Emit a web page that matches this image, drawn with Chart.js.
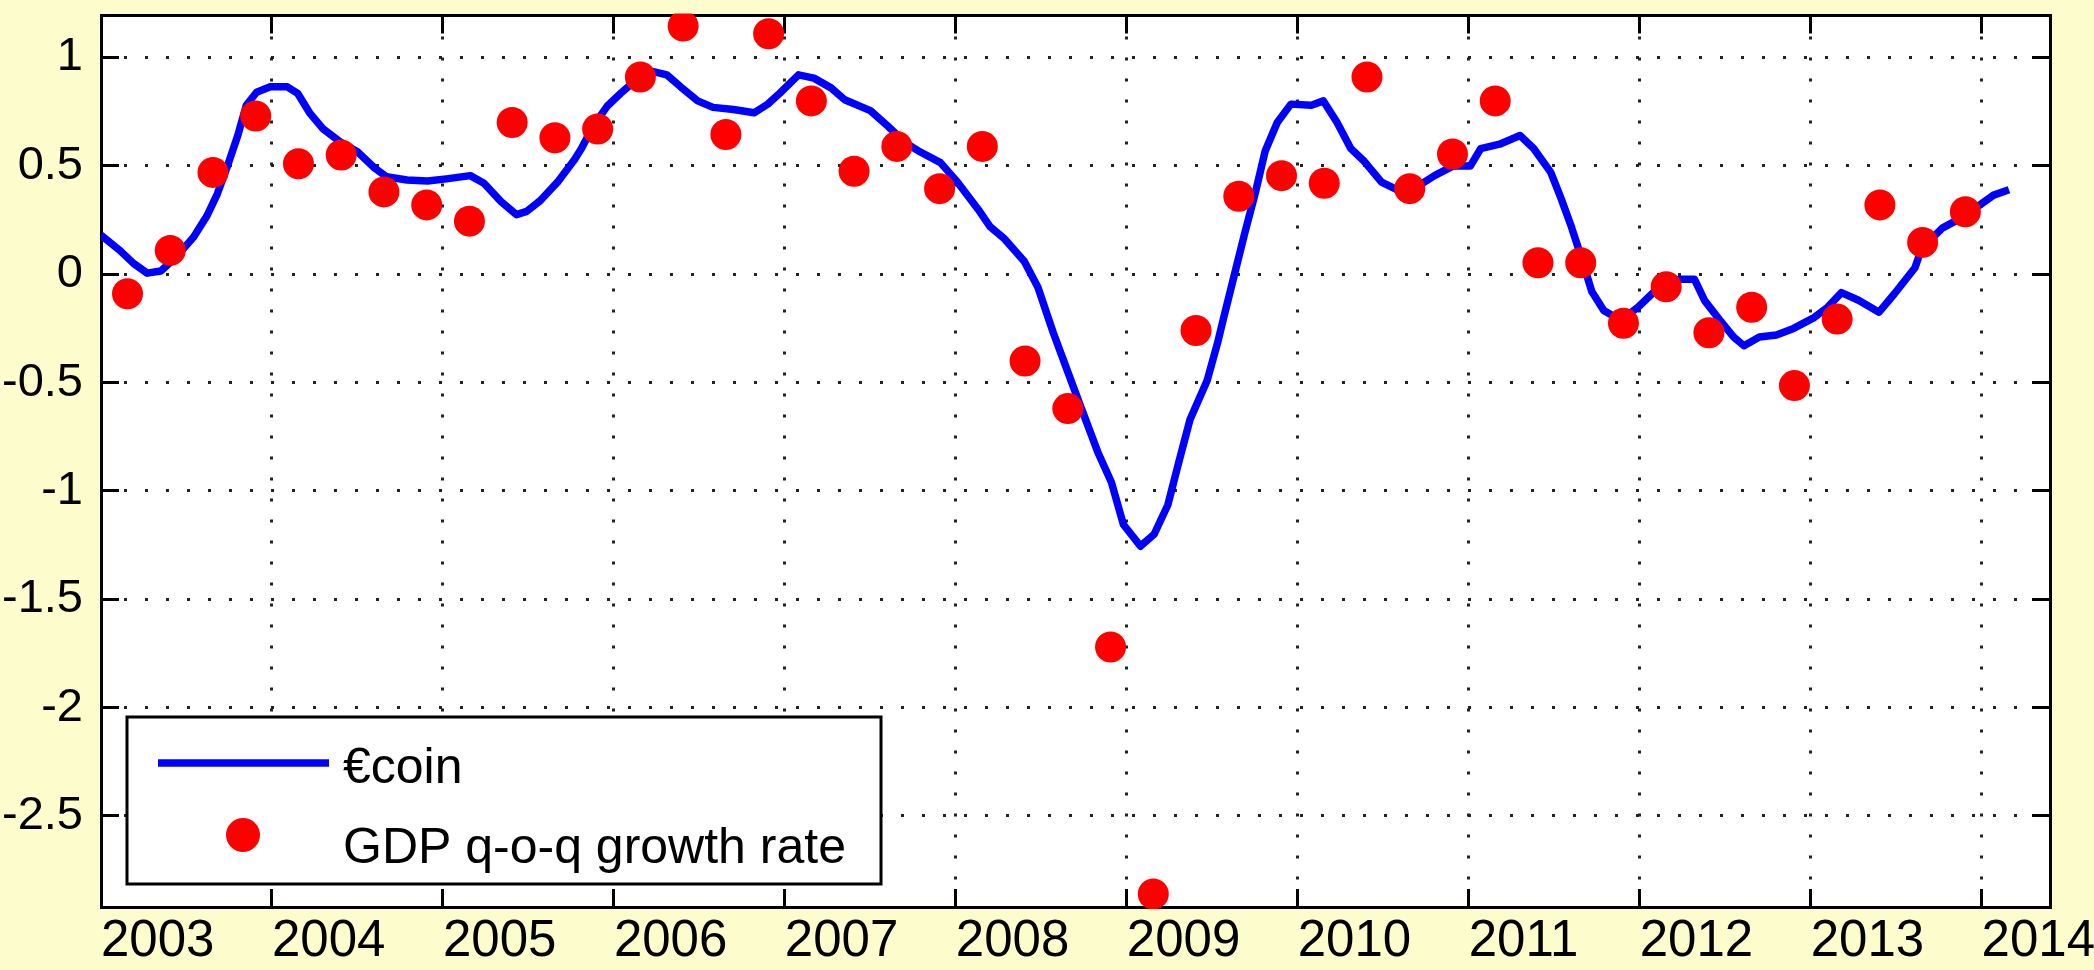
<!DOCTYPE html>
<html>
<head>
<meta charset="utf-8">
<script src="https://cdn.jsdelivr.net/npm/chart.js@4/dist/chart.umd.min.js"></script>
<style>
  html, body { margin: 0; padding: 0; background: #fdfccd; }
</style>
</head>
<body>
<canvas id="ecoin" width="2094" height="970"></canvas>
<script>
// €-coin vs euro area GDP q-o-q growth, 2003-2014

// €-coin line (fractional year, value)
const coinDates = [2003.00, 2003.11, 2003.19, 2003.27, 2003.35, 2003.44, 2003.54, 2003.62, 2003.68, 2003.74,
  2003.80, 2003.85, 2003.91, 2003.99, 2004.09, 2004.15, 2004.22, 2004.30, 2004.40, 2004.50,
  2004.60, 2004.67, 2004.79, 2004.91, 2005.02, 2005.16, 2005.24, 2005.34, 2005.43, 2005.49,
  2005.57, 2005.67, 2005.77, 2005.81, 2005.88, 2005.96, 2006.04, 2006.12, 2006.23, 2006.31,
  2006.39, 2006.49, 2006.58, 2006.70, 2006.82, 2006.90, 2006.97, 2007.08, 2007.17, 2007.27,
  2007.35, 2007.50, 2007.60, 2007.70, 2007.79, 2007.91, 2008.01, 2008.13, 2008.20, 2008.28,
  2008.40, 2008.48, 2008.57, 2008.65, 2008.73, 2008.83, 2008.91, 2008.98, 2009.08, 2009.16,
  2009.24, 2009.30, 2009.37, 2009.47, 2009.53, 2009.57, 2009.63, 2009.69, 2009.75, 2009.81,
  2009.88, 2009.96, 2010.08, 2010.15, 2010.23, 2010.31, 2010.39, 2010.49, 2010.58, 2010.68,
  2010.80, 2010.91, 2011.01, 2011.07, 2011.18, 2011.30, 2011.38, 2011.48, 2011.54, 2011.60,
  2011.66, 2011.72, 2011.79, 2011.89, 2011.99, 2012.08, 2012.16, 2012.24, 2012.32, 2012.38,
  2012.47, 2012.55, 2012.61, 2012.70, 2012.80, 2012.90, 2013.02, 2013.10, 2013.18, 2013.28,
  2013.40, 2013.49, 2013.61, 2013.65, 2013.77, 2013.88, 2013.99, 2014.07, 2014.16];
const coinValues = [0.18, 0.11, 0.05, 0.005, 0.015, 0.08, 0.17, 0.27, 0.37, 0.50,
  0.64, 0.78, 0.84, 0.865, 0.865, 0.835, 0.745, 0.67, 0.61, 0.565,
  0.49, 0.45, 0.435, 0.43, 0.44, 0.455, 0.42, 0.335, 0.275, 0.29,
  0.34, 0.425, 0.53, 0.58, 0.685, 0.775, 0.835, 0.89, 0.935, 0.92,
  0.865, 0.80, 0.77, 0.76, 0.745, 0.785, 0.835, 0.92, 0.905, 0.86,
  0.805, 0.755, 0.685, 0.61, 0.565, 0.515, 0.425, 0.30, 0.22, 0.167,
  0.06, -0.06, -0.27, -0.44, -0.61, -0.82, -0.96, -1.155, -1.255, -1.20,
  -1.065, -0.88, -0.67, -0.49, -0.32, -0.19, 0.0, 0.19, 0.37, 0.57,
  0.70, 0.785, 0.78, 0.80, 0.70, 0.58, 0.52, 0.425, 0.39, 0.395,
  0.455, 0.50, 0.50, 0.58, 0.60, 0.64, 0.58, 0.47, 0.35, 0.22,
  0.075, -0.08, -0.167, -0.213, -0.152, -0.084, -0.038, -0.023, -0.023, -0.122,
  -0.213, -0.29, -0.33, -0.29, -0.28, -0.25, -0.20, -0.152, -0.085, -0.12,
  -0.175, -0.09, 0.03, 0.12, 0.213, 0.26, 0.32, 0.365, 0.39];

// GDP quarter-on-quarter growth
const gdpQuarters = ['2003Q1', '2003Q2', '2003Q3', '2003Q4', '2004Q1', '2004Q2', '2004Q3', '2004Q4',
  '2005Q1', '2005Q2', '2005Q3', '2005Q4', '2006Q1', '2006Q2', '2006Q3', '2006Q4',
  '2007Q1', '2007Q2', '2007Q3', '2007Q4', '2008Q1', '2008Q2', '2008Q3', '2008Q4',
  '2009Q1', '2009Q2', '2009Q3', '2009Q4', '2010Q1', '2010Q2', '2010Q3', '2010Q4',
  '2011Q1', '2011Q2', '2011Q3', '2011Q4', '2012Q1', '2012Q2', '2012Q3', '2012Q4',
  '2013Q1', '2013Q2', '2013Q3', '2013Q4'];
const gdpValues = [-0.09, 0.11, 0.47, 0.73, 0.51, 0.55, 0.38, 0.32,
  0.245, 0.70, 0.63, 0.67, 0.91, 1.145, 0.645, 1.11,
  0.80, 0.475, 0.59, 0.395, 0.59, -0.40, -0.62, -1.72,
  -2.86, -0.26, 0.36, 0.455, 0.42, 0.91, 0.395, 0.555,
  0.80, 0.053, 0.053, -0.226, -0.058, -0.27, -0.152, -0.514,
  -0.207, 0.32, 0.147, 0.288];

const yearTicks = [2003, 2004, 2005, 2006, 2007, 2008, 2009, 2010, 2011, 2012, 2013, 2014];
const valueTicks = [-2.5, -2, -1.5, -1, -0.5, 0, 0.5, 1];

// quarter label -> position on the year axis (dots sit in the quarter's middle month)
const quarterPos = (q) => Number(q.slice(0, 4)) + (Number(q.slice(5)) - 1) * 0.25 + 0.155;

const FONT = '"Liberation Sans", Arial, sans-serif';
const X_MIN = 2003, X_MAX = 2014.4;
const Y_MIN = -2.92, Y_MAX = 1.194;

const dottedGrid = { color: '#222222', lineWidth: 3, tickLength: -18, tickColor: '#000', tickWidth: 3 };
const solidBorder = { color: '#000', width: 3, dash: [3, 18] };

const frame = {
    id: 'frame',
    beforeDraw(chart) {
        const { ctx, chartArea: a, width, height } = chart;
        ctx.save();
        ctx.fillStyle = '#fdfccd';
        ctx.fillRect(0, 0, width, height);
        ctx.fillStyle = '#ffffff';
        ctx.fillRect(a.left, a.top, a.right - a.left, a.bottom - a.top);
        ctx.restore();
    },
};

// legend box in the lower-left corner of the plot
const boxLegend = {
    id: 'boxLegend',
    afterDraw(chart) {
        const { ctx, chartArea: a } = chart;
        const [line, dots] = chart.data.datasets;
        const x = a.left + 26, y = a.bottom - 190, w = 754, h = 167;
        ctx.save();
        ctx.fillStyle = '#fff';
        ctx.fillRect(x, y, w, h);
        ctx.lineWidth = 3;
        ctx.strokeStyle = '#000';
        ctx.strokeRect(x, y, w, h);

        ctx.strokeStyle = line.borderColor;
        ctx.lineWidth = line.borderWidth;
        ctx.beginPath();
        ctx.moveTo(x + 31, y + 46);
        ctx.lineTo(x + 202, y + 46);
        ctx.stroke();

        ctx.fillStyle = dots.backgroundColor;
        ctx.beginPath();
        ctx.arc(x + 116, y + 118, 17, 0, Math.PI * 2);
        ctx.fill();

        ctx.fillStyle = '#000';
        ctx.font = '50px ' + FONT;
        ctx.textBaseline = 'alphabetic';
        ctx.fillText(line.label, x + 216, y + 66);
        ctx.fillText(dots.label, x + 216, y + 146);
        ctx.restore();
    },
};

new Chart(document.getElementById('ecoin').getContext('2d'), {
    type: 'scatter',
    data: {
        datasets: [{
            label: '€coin',
            data: coinDates.map((d, i) => ({ x: d, y: coinValues[i] })),
            showLine: true,
            borderColor: '#0000ff',
            borderWidth: 7.5,
            borderJoinStyle: 'round',
            pointRadius: 0,
            tension: 0,
            order: 1,
        }, {
            label: 'GDP q-o-q growth rate',
            data: gdpQuarters.map((q, i) => ({ x: quarterPos(q), y: gdpValues[i] })),
            backgroundColor: '#ff0000',
            borderWidth: 0,
            pointRadius: 15.5,
            clip: 2,
            order: 0,
        }],
    },
    options: {
        responsive: false,
        animation: false,
        devicePixelRatio: 1,
        layout: { padding: { left: 0, top: 5, right: 44, bottom: 0 } },
        plugins: { legend: { display: false }, tooltip: { enabled: false } },
        scales: {
            x: {
                type: 'linear', position: 'bottom', min: X_MIN, max: X_MAX,
                afterBuildTicks: (s) => { s.ticks = yearTicks.map((v) => ({ value: v })); },
                afterFit: (s) => { s.height = 63; s.paddingLeft = 0; s.paddingRight = 0; },
                ticks: {
                    align: 'start', padding: 22, color: '#000', font: { size: 51, family: FONT },
                    maxRotation: 0, minRotation: 0, autoSkip: false, callback: (v) => String(v),
                },
                grid: dottedGrid,
                border: solidBorder,
            },
            y: {
                type: 'linear', position: 'left', min: Y_MIN, max: Y_MAX,
                afterBuildTicks: (s) => { s.ticks = valueTicks.map((v) => ({ value: v })); },
                afterFit: (s) => { s.width = 101; s.paddingTop = 0; s.paddingBottom = 0; },
                ticks: { padding: 36, color: '#000', font: { size: 47, family: FONT }, callback: (v) => String(v) },
                grid: dottedGrid,
                border: solidBorder,
            },
            x2: {
                type: 'linear', position: 'top', min: X_MIN, max: X_MAX,
                afterBuildTicks: (s) => { s.ticks = yearTicks.map((v) => ({ value: v })); },
                afterFit: (s) => { s.height = 0; s.paddingLeft = 0; s.paddingRight = 0; },
                ticks: { display: false },
                grid: { ...dottedGrid, drawOnChartArea: false },
                border: { color: '#000', width: 3 },
            },
            y2: {
                type: 'linear', position: 'right', min: Y_MIN, max: Y_MAX,
                afterBuildTicks: (s) => { s.ticks = valueTicks.map((v) => ({ value: v })); },
                afterFit: (s) => { s.width = 0; s.paddingTop = 0; s.paddingBottom = 0; },
                ticks: { display: false },
                grid: { ...dottedGrid, drawOnChartArea: false },
                border: { color: '#000', width: 3 },
            },
        },
    },
    plugins: [frame, boxLegend],
});
</script>
</body>
</html>
